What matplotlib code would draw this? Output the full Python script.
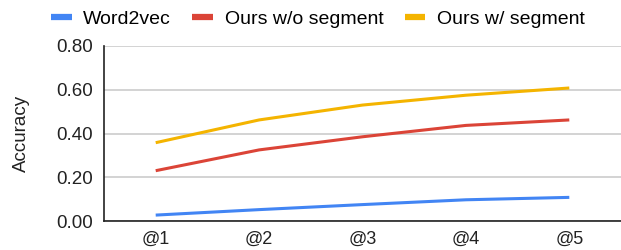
import matplotlib
matplotlib.use("Agg")
import matplotlib.pyplot as plt
from matplotlib.ticker import FormatStrFormatter

categories = ["@1", "@2", "@3", "@4", "@5"]
word2vec = [0.027, 0.052, 0.075, 0.097, 0.108]
ours_wo_seg = [0.23, 0.325, 0.385, 0.437, 0.462]
ours_w_seg = [0.358, 0.462, 0.53, 0.575, 0.608]
series_names = ["Word2vec", "Ours w/o segment", "Ours w/ segment"]
colors = ["#4285F4", "#DB4437", "#F4B400"]
yticks = [0.0, 0.2, 0.4, 0.6, 0.8]

plt.rcParams['font.family'] = ['Liberation Sans', 'DejaVu Sans']

fig = plt.figure(figsize=(6.21, 2.5), dpi=100)
ax = fig.add_axes([104/621, (250-221)/250, (621-104)/621, 175/250])

x = list(range(len(categories)))
for vals, name, c in zip([word2vec, ours_wo_seg, ours_w_seg], series_names, colors):
    ax.plot(x, vals, color=c, lw=2.2, label=name, solid_capstyle='butt')

ax.set_xlim(-0.5, len(categories) - 0.5)
ax.set_ylim(0, 0.8)
ax.set_yticks(yticks)
ax.yaxis.set_major_formatter(FormatStrFormatter('%.2f'))
ax.set_xticks(x)
ax.set_xticklabels(categories)
ax.grid(axis='y', color='#cccccc', lw=1.2)
ax.set_axisbelow(True)
for s in ['top', 'right']:
    ax.spines[s].set_visible(False)
ax.spines['left'].set_color('#222222')
ax.spines['bottom'].set_color('#222222')
ax.spines['left'].set_linewidth(1.2)
ax.spines['bottom'].set_linewidth(1.2)
ax.tick_params(axis='y', length=0, labelsize=13.5, colors='#222222', pad=8)
ax.tick_params(axis='x', length=0, labelsize=13, colors='#222222', pad=7)
ax.set_ylabel("Accuracy", fontsize=13.5, color='#222222', labelpad=19)

leg = fig.legend(loc='upper center', bbox_to_anchor=(0.512, 1.03), ncol=3, frameon=False,
                 fontsize=14, handlelength=1.05, handletextpad=0.6, columnspacing=1.1)
for h in leg.get_lines():
    h.set_linewidth(4.5)

fig.savefig("out.png", dpi=100)
